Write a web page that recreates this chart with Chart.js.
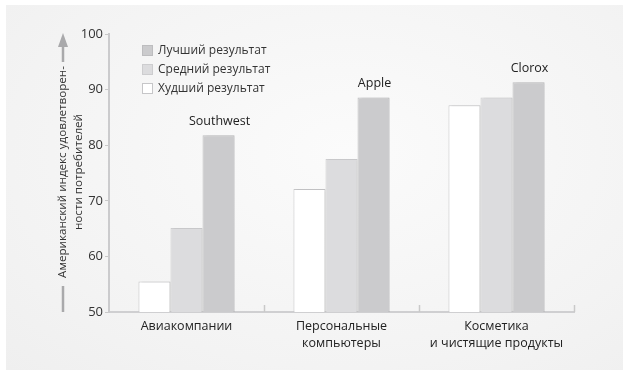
<!DOCTYPE html>
<html lang="ru">
<head>
  <meta charset="UTF-8" />
  <title>Американский индекс удовлетворенности потребителей</title>
  <script src="https://cdn.jsdelivr.net/npm/chart.js"></script>
  <style>
    html, body {
      margin: 0;
      padding: 0;
      background: #fff;
    }
    .wrap {
      position: relative;
      width: 630px;
      height: 377px;
    }
    .panel {
      position: absolute;
      left: 6px;
      top: 5px;
      width: 617px;
      height: 365px;
      background: radial-gradient(ellipse at 55% 40%, #fbfbfb 0%, #f3f3f3 70%, #efefef 100%);
    }
    canvas {
      position: absolute;
      left: 0;
      top: 0;
    }
  </style>
</head>
<body>
  <div class="wrap">
    <div class="panel"></div>
    <canvas id="chart" width="630" height="377"></canvas>
  </div>

  <script>
    const categories = [
      'Авиакомпании',
      ['Персональные', 'компьютеры'],
      ['Косметика', 'и чистящие продукты']
    ];
    const worst = [55.5, 72.1, 87.2];
    const average = [65.1, 77.5, 88.6];
    const best = [81.8, 88.6, 91.3];
    const leaders = ['Southwest', 'Apple', 'Clorox'];
    const seriesNames = ['Худший результат', 'Средний результат', 'Лучший результат'];
    const yTicks = [50, 60, 70, 80, 90, 100];
    const yTitle = ['Американский индекс удовлетворен-', 'ности потребителей'];

    const FONT = "'Open Sans', sans-serif";

    // legend drawn inside the plot, best first
    const legendInside = {
      id: 'legendInside',
      afterDraw(chart) {
        const ctx = chart.ctx;
        const ds = chart.data.datasets.slice().reverse();
        ctx.save();
        ctx.font = '12px ' + FONT;
        ctx.textBaseline = 'middle';
        ds.forEach((d, i) => {
          const y = 45.5 + i * 19;
          ctx.fillStyle = d.backgroundColor;
          ctx.strokeStyle = d.borderColor;
          ctx.lineWidth = 1;
          ctx.fillRect(142.5, y, 10, 10);
          ctx.strokeRect(142.5, y, 10, 10);
          ctx.fillStyle = '#333';
          ctx.fillText(d.label, 158, y + 5.5);
        });
        ctx.restore();
      }
    };

    // company names over the best bars
    const leaderLabels = {
      id: 'leaderLabels',
      afterDatasetsDraw(chart) {
        const ctx = chart.ctx;
        const meta = chart.getDatasetMeta(2);
        ctx.save();
        ctx.font = '12.5px ' + FONT;
        ctx.fillStyle = '#222';
        ctx.textAlign = 'center';
        ctx.textBaseline = 'middle';
        meta.data.forEach((bar, i) => {
          ctx.fillText(leaders[i], bar.x + 1, bar.y - 14);
        });
        ctx.restore();
      }
    };

    // faint shadow to the right of the bars
    const barShadow = {
      id: 'barShadow',
      beforeDatasetsDraw(chart) {
        const ctx = chart.ctx;
        ctx.save();
        ctx.shadowColor = 'rgba(0,0,0,0.08)';
        ctx.shadowOffsetX = 3;
        ctx.shadowBlur = 2;
      },
      afterDatasetsDraw(chart) {
        chart.ctx.restore();
      }
    };

    // small ticks on the x axis between categories, axis title with arrow
    const axisExtras = {
      id: 'axisExtras',
      afterDraw(chart) {
        const ctx = chart.ctx;
        const a = chart.chartArea;
        const step = (a.right - a.left) / categories.length;
        ctx.save();
        ctx.strokeStyle = '#c9c9c9';
        ctx.lineWidth = 1.5;
        for (let i = 1; i <= categories.length; i++) {
          const x = Math.round(a.left + step * i) + 0.5;
          ctx.beginPath();
          ctx.moveTo(x, a.bottom);
          ctx.lineTo(x, a.bottom - 7);
          ctx.stroke();
        }

        // y title, sized so the first line fits between the dash and the arrow
        ctx.translate(71, 172);
        ctx.rotate(-Math.PI / 2);
        ctx.font = '12px ' + FONT;
        const size = Math.min(12.5, 12 * 212 / ctx.measureText(yTitle[0]).width);
        ctx.font = size + 'px ' + FONT;
        ctx.fillStyle = '#333';
        ctx.textAlign = 'center';
        ctx.textBaseline = 'middle';
        ctx.fillText(yTitle[0], 0, -8);
        ctx.fillText(yTitle[1], 0, 8);

        ctx.strokeStyle = '#a9a9ab';
        ctx.fillStyle = '#a9a9ab';
        ctx.lineWidth = 2.5;
        ctx.beginPath();
        ctx.moveTo(-140, -8);
        ctx.lineTo(-114, -8);
        ctx.stroke();
        ctx.beginPath();
        ctx.moveTo(110, -8);
        ctx.lineTo(128, -8);
        ctx.stroke();
        ctx.beginPath();
        ctx.moveTo(139, -8);
        ctx.lineTo(125, -13);
        ctx.lineTo(125, -3);
        ctx.closePath();
        ctx.fill();
        ctx.restore();
      }
    };

    new Chart(document.getElementById('chart').getContext('2d'), {
      type: 'bar',
      data: {
        labels: categories,
        datasets: [
          {
            label: seriesNames[0],
            data: worst,
            backgroundColor: '#ffffff',
            borderColor: '#c6c6c8',
            borderWidth: 1
          },
          {
            label: seriesNames[1],
            data: average,
            backgroundColor: '#dcdcde',
            borderColor: '#cdcdcf',
            borderWidth: 1
          },
          {
            label: seriesNames[2],
            data: best,
            backgroundColor: '#cbcbcd',
            borderColor: '#bdbdbf',
            borderWidth: 1
          }
        ]
      },
      options: {
        responsive: false,
        animation: false,
        layout: {
          padding: { left: 0, right: 56, top: 34, bottom: 0 }
        },
        plugins: {
          legend: { display: false },
          tooltip: { enabled: false }
        },
        datasets: {
          bar: {
            categoryPercentage: 0.62,
            barPercentage: 1
          }
        },
        scales: {
          x: {
            grid: { display: false, drawTicks: false },
            border: { display: true, color: '#cfcfd1', width: 2 },
            ticks: {
              color: '#222',
              padding: 6,
              font: { family: FONT, size: 12.5, lineHeight: 1.35 }
            },
            afterFit(scale) { scale.height = 65; }
          },
          y: {
            min: 50,
            max: 100,
            afterBuildTicks(scale) {
              scale.ticks = yTicks.map(v => ({ value: v }));
            },
            grid: {
              drawOnChartArea: false,
              drawTicks: true,
              tickLength: 4,
              color: '#c9c9c9',
              lineWidth: 1
            },
            border: { display: true, color: '#cbcbcd', width: 2 },
            ticks: {
              color: '#333',
              padding: 2,
              font: { family: FONT, size: 13 }
            },
            afterFit(scale) { scale.width = 109; }
          }
        }
      },
      plugins: [barShadow, leaderLabels, legendInside, axisExtras]
    });
  </script>
</body>
</html>
